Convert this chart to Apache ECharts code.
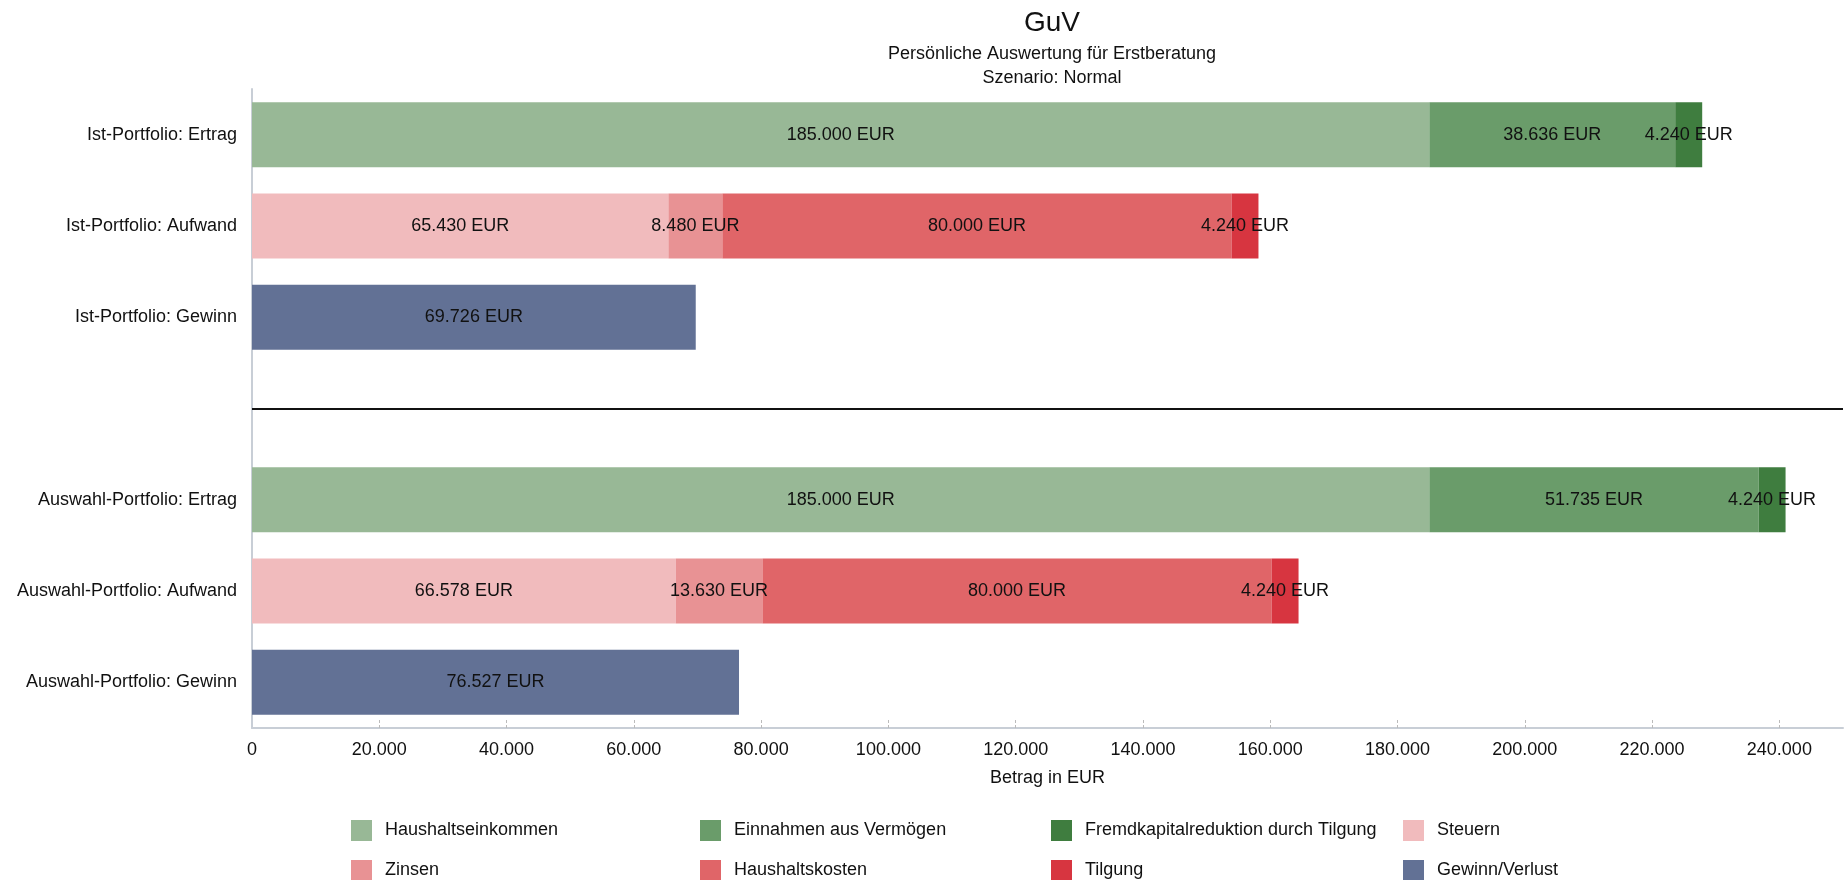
<!DOCTYPE html>
<html>
<head>
<meta charset="utf-8">
<script src="https://cdn.jsdelivr.net/npm/echarts@6/dist/echarts.min.js"></script>
<style>
html,body{margin:0;padding:0;background:#fff;}
#chart{width:1845px;height:880px;}
</style>
</head>
<body>
<div id="chart"></div>
<script>
const categories = ['Ist-Portfolio: Ertrag','Ist-Portfolio: Aufwand','Ist-Portfolio: Gewinn','','Auswahl-Portfolio: Ertrag','Auswahl-Portfolio: Aufwand','Auswahl-Portfolio: Gewinn'];
const seriesNames = ['Haushaltseinkommen','Einnahmen aus Vermögen','Fremdkapitalreduktion durch Tilgung','Steuern','Zinsen','Haushaltskosten','Tilgung','Gewinn/Verlust'];
const haushaltseinkommen = [185000, null, null, null, 185000, null, null];
const einnahmenVermoegen = [38636, null, null, null, 51735, null, null];
const fremdkapitalreduktion = [4240, null, null, null, 4240, null, null];
const steuern = [null, 65430, null, null, null, 66578, null];
const zinsen = [null, 8480, null, null, null, 13630, null];
const haushaltskosten = [null, 80000, null, null, null, 80000, null];
const tilgung = [null, 4240, null, null, null, 4240, null];
const gewinnVerlust = [null, null, 69726, null, null, null, 76527];
const tickValues = [0, 20000, 40000, 60000, 80000, 100000, 120000, 140000, 160000, 180000, 200000, 220000, 240000];
const tickMarks = [20000, 40000, 60000, 80000, 100000, 120000, 140000, 160000, 180000, 200000, 220000, 240000];
const separatorIndex = 3;

const colors = ['#98b896','#6a9c6a','#3f7d3f','#f1bbbd','#e89294','#e06568','#d73540','#627195'];
const seriesData = [haushaltseinkommen, einnahmenVermoegen, fremdkapitalreduktion, steuern, zinsen, haushaltskosten, tilgung, gewinnVerlust];
const FONT = '"Liberation Sans", Arial, Helvetica, sans-serif';

function fmt(v){ return String(Math.round(v)).replace(/\B(?=(\d{3})+(?!\d))/g, '.'); }

const series = seriesNames.map((name, i) => {
  const s = {
    name: name,
    type: 'bar',
    stack: 'total',
    barWidth: 65,
    data: seriesData[i],
    itemStyle: { color: colors[i] },
    label: {
      show: true,
      position: 'inside',
      color: '#111',
      fontFamily: FONT,
      fontSize: 18,
      textBorderWidth: 0,
      formatter: p => fmt(p.value) + ' EUR'
    },
    emphasis: { disabled: true }
  };
  if (i === 0) {
    s.markLine = {
      silent: true,
      symbol: 'none',
      label: { show: false },
      lineStyle: { color: '#111', width: 2, type: 'solid' },
      data: [{ yAxis: separatorIndex }]
    };
  }
  return s;
});

const legendCols = [351, 700, 1051, 1403];
const legendRows = [820, 860];
const legends = seriesNames.map((name, i) => ({
  orient: 'horizontal',
  left: legendCols[i % 4],
  top: legendRows[Math.floor(i / 4)],
  itemWidth: 21,
  itemHeight: 21,
  itemGap: 0,
  icon: 'rect',
  selectedMode: false,
  padding: 0,
  data: [name],
  textStyle: { fontFamily: FONT, fontSize: 18, color: '#111', padding: [0,0,0,8] }
}));

const option = {
  animation: false,
  color: colors,
  title: {
    text: 'GuV',
    subtext: 'Persönliche Auswertung für Erstberatung\nSzenario: Normal',
    left: 1047,
    top: 3,
    textAlign: 'center',
    itemGap: 4,
    textStyle: { fontFamily: FONT, fontSize: 28, fontWeight: 'normal', color: '#111', lineHeight: 30 },
    subtextStyle: { fontFamily: FONT, fontSize: 18, color: '#111', lineHeight: 24 }
  },
  legend: legends,
  grid: { left: 252, right: 2, top: 89, bottom: 152 },
  xAxis: {
    type: 'value',
    min: 0,
    max: 250000,
    interval: 20000,
    name: 'Betrag in EUR',
    nameLocation: 'middle',
    nameGap: 41,
    nameTextStyle: { fontFamily: FONT, fontSize: 18, color: '#111' },
    axisLine: { show: true, lineStyle: { color: '#c8ced6', width: 2 } },
    axisTick: { show: true, inside: true, length: 10, customValues: tickMarks, lineStyle: { color: '#bbbbbb', type: [3, 2] } },
    axisLabel: { fontFamily: FONT, fontSize: 18, color: '#111', margin: 13, customValues: tickValues, formatter: v => fmt(v) },
    splitLine: { show: false }
  },
  yAxis: {
    type: 'category',
    data: categories,
    inverse: true,
    axisLine: { show: true, lineStyle: { color: '#c8ced6', width: 2 } },
    axisTick: { show: false },
    axisLabel: { fontFamily: FONT, fontSize: 18, color: '#111', margin: 15 },
    splitLine: { show: false }
  },
  series: series
};

const chart = echarts.init(document.getElementById('chart'), null, { renderer: 'canvas' });
chart.setOption(option);
</script>
</body>
</html>
